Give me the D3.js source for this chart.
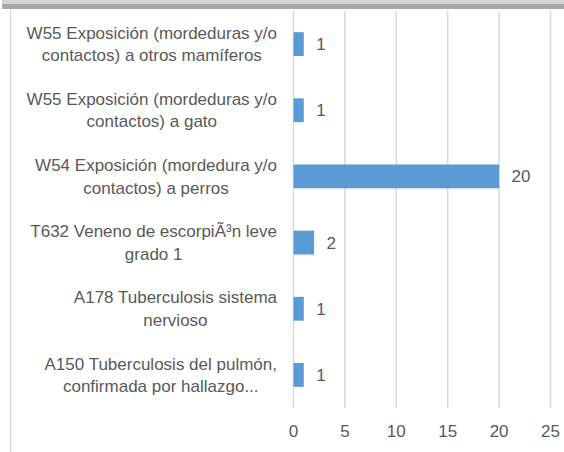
<!DOCTYPE html>
<html>
<head>
<meta charset="utf-8">
<script src="https://cdn.jsdelivr.net/npm/d3@7"></script>
<style>
  body { margin: 0; background: #fff; }
  svg { display: block; font-family: "Liberation Sans", Arial, sans-serif; }
</style>
</head>
<body>
<svg id="chart" width="564" height="452"></svg>
<script>
/*
Chart data, listed top to bottom as drawn.
 */
var categories = [
    ["W55 Exposición (mordeduras y/o", "contactos) a otros mamíferos"],
    ["W55 Exposición (mordeduras y/o", "contactos) a gato"],
    ["W54 Exposición (mordedura y/o", "contactos) a perros"],
    ["T632 Veneno de escorpiÃ³n leve", "grado 1"],
    ["A178 Tuberculosis sistema", "nervioso"],
    ["A150 Tuberculosis del pulmón,", "confirmada por hallazgo..."]
];
var values = [1, 1, 20, 2, 1, 1];
var tickValues = [0, 5, 10, 15, 20, 25];

/*
Static constants
 */
const barColor = "#5B9BD5";
const textColor = "#595959";
const gridColor = "#D9D9D9";
const fontSize = 17;
const lineHeight = 22.5;

var svg = d3.select("#chart");
var keys = categories.map(function(d, i) { return i; });

var x = d3.scaleLinear()
    .domain([0, 25])
    .range([293, 550]);

var y = d3.scaleBand()
    .domain(keys)
    .range([11, 408])
    .paddingInner(0.64)
    .paddingOuter(0.32);

//top edge band & left border of the frame
svg.append("rect").attr("x", 2).attr("y", 0).attr("width", 562).attr("height", 4).attr("fill", "#d4d4d4");
svg.append("rect").attr("x", 2).attr("y", 4).attr("width", 562).attr("height", 5).attr("fill", "#a8a8a8");
svg.append("line")
    .attr("x1", 10.5).attr("x2", 10.5).attr("y1", 9).attr("y2", 452)
    .attr("stroke", gridColor).attr("stroke-width", 1.5);

//vertical gridlines
var xAxis = d3.axisBottom(x)
    .tickValues(tickValues)
    .tickSize(-(408 - 11))
    .tickPadding(17);

var gx = svg.append("g")
    .attr("transform", "translate(0,408)")
    .call(xAxis);
gx.select(".domain").remove();
gx.selectAll(".tick line").attr("stroke", gridColor).attr("stroke-width", 1.5);
gx.selectAll(".tick text")
    .attr("fill", textColor)
    .attr("font-size", fontSize)
    .attr("font-family", "Liberation Sans, Arial, sans-serif");

//bars
svg.selectAll("rect.bar")
    .data(values)
    .enter().append("rect")
    .attr("class", "bar")
    .attr("x", x(0) + 0.5)
    .attr("y", function(d, i) { return y(i); })
    .attr("width", function(d) { return x(d) - x(0); })
    .attr("height", y.bandwidth())
    .attr("fill", barColor);

//value labels
svg.selectAll("text.value")
    .data(values)
    .enter().append("text")
    .attr("class", "value")
    .attr("x", function(d) { return x(d) + 13; })
    .attr("y", function(d, i) { return y(i) + y.bandwidth() / 2; })
    .attr("dy", "0.35em")
    .attr("fill", textColor)
    .attr("font-size", fontSize)
    .text(function(d) { return d; });

//category labels: block right aligned, each line centered in the block
var labelRight = 277;
categories.forEach(function(lines, i) {
    var g = svg.append("g");
    var texts = lines.map(function(line) {
        return g.append("text")
            .attr("fill", textColor)
            .attr("font-size", fontSize)
            .attr("text-anchor", "middle")
            .text(line);
    });
    var maxW = d3.max(texts, function(t) { return t.node().getComputedTextLength(); });
    var cx = labelRight - maxW / 2;
    var cy = y(i) + y.bandwidth() / 2;
    var top = cy - (lines.length - 1) * lineHeight / 2;
    texts.forEach(function(t, j) {
        t.attr("x", cx).attr("y", top + j * lineHeight).attr("dy", "0.35em");
    });
});
</script>
</body>
</html>
